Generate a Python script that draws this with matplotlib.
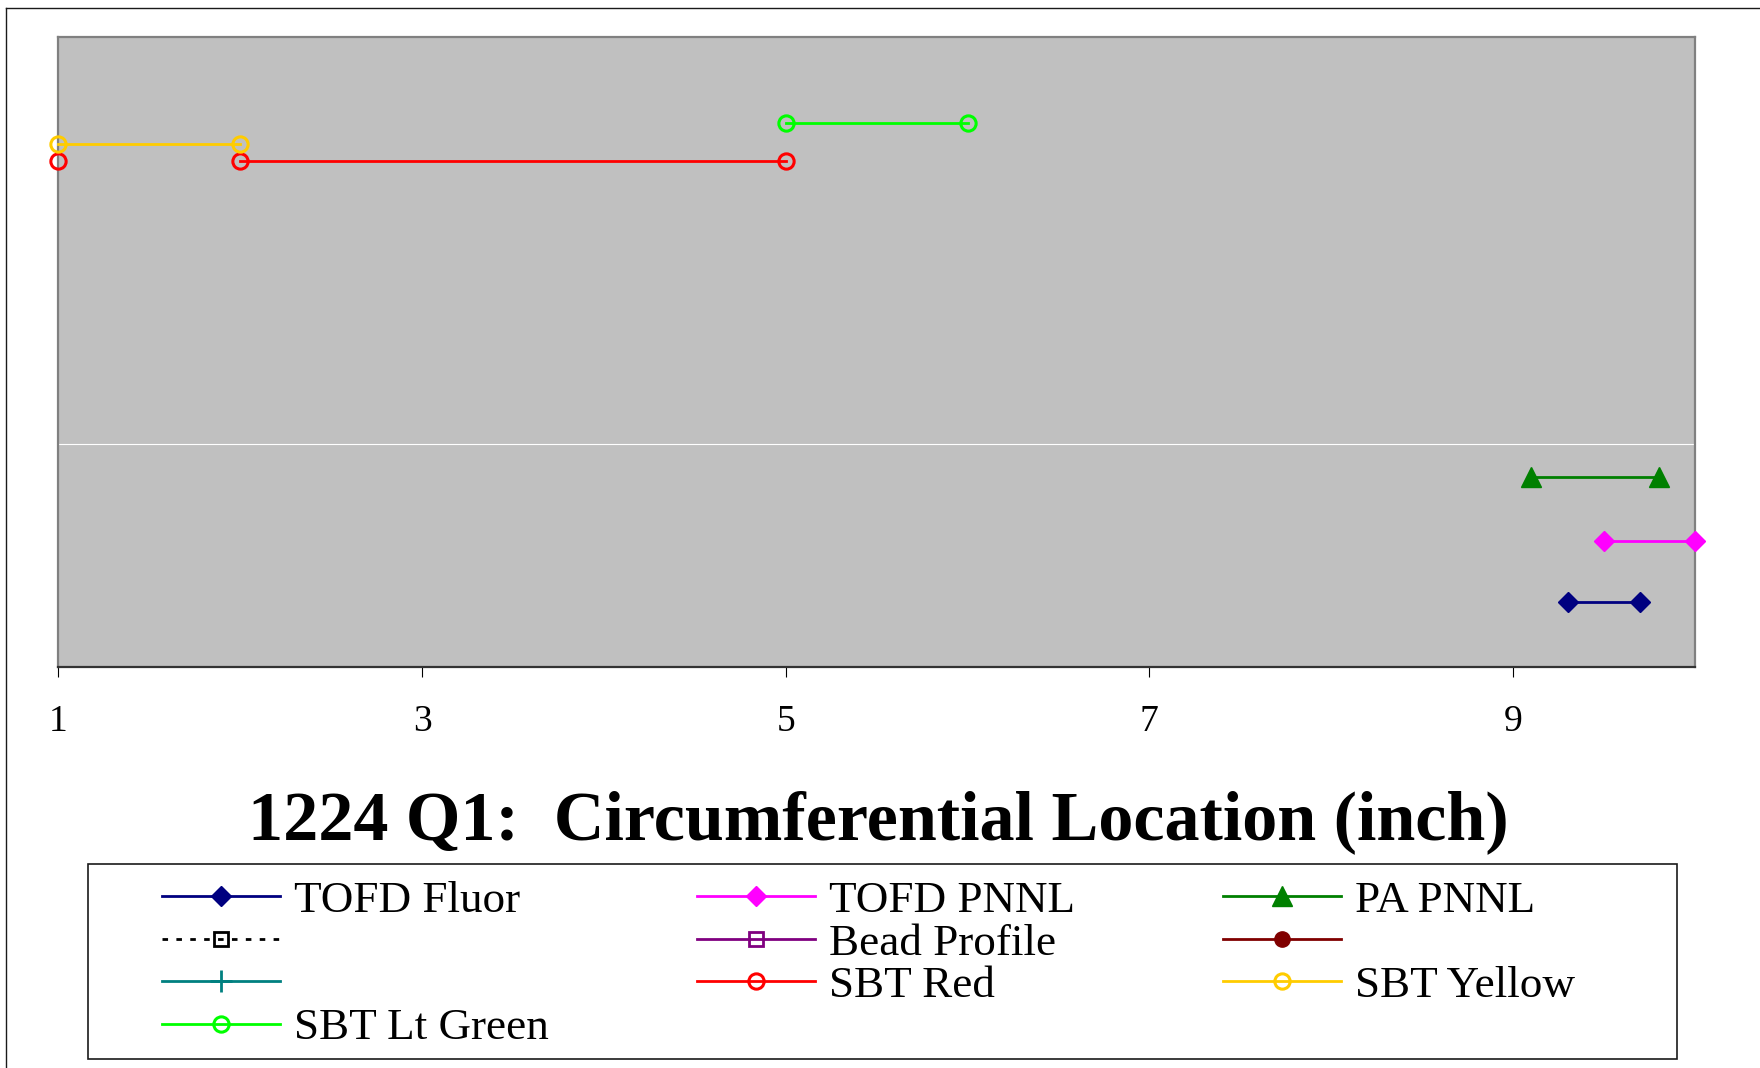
import numpy as np
import matplotlib
matplotlib.use('Agg')
from matplotlib import pyplot as plt
from matplotlib.patches import Rectangle
from matplotlib.lines import Line2D

plt.rcParams['font.family'] = ['Liberation Serif', 'DejaVu Serif']

# Данные (x - окружная координата, y - глубина)
tofd_fluor_x = [9.3, 9.7]
tofd_fluor_y = [-0.425, -0.425]
tofd_pnnl_x = [9.5, 10.0]
tofd_pnnl_y = [-0.26, -0.26]
pa_pnnl_x = [9.1, 9.8]
pa_pnnl_y = [-0.087, -0.087]
sbt_red_x = [1, np.nan, 2, 5]
sbt_red_y = [0.765, np.nan, 0.765, 0.765]
sbt_yellow_x = [1, 2]
sbt_yellow_y = [0.81, 0.81]
sbt_green_x = [5, 6]
sbt_green_y = [0.866, 0.866]
x_ticks = [1, 3, 5, 7, 9]

W, H = 1760, 1068
fig = plt.figure(figsize=(W / 100, H / 100), dpi=100)

ax = fig.add_axes([58.3 / W, (H - 666.7) / H, (1695 - 58.3) / W, (666.7 - 36.7) / H])
ax.set_facecolor('#c0c0c0')
ax.set_xlim(1, 10)
ax.set_ylim(-0.6, 1.1)
ax.axhline(0, color='white', lw=0.8, zorder=1)

common = dict(lw=2.0, clip_on=False, zorder=3)
l_fluor, = ax.plot(tofd_fluor_x, tofd_fluor_y, color='#000080', marker='D', ms=10, **common)
l_pnnl, = ax.plot(tofd_pnnl_x, tofd_pnnl_y, color='#ff00ff', marker='D', ms=10, **common)
l_pa, = ax.plot(pa_pnnl_x, pa_pnnl_y, color='#008000', marker='^', ms=14, **common)
l_red, = ax.plot(sbt_red_x, sbt_red_y, color='#ff0000', marker='o', ms=11, mfc='none', mew=2.2, **common)
l_yel, = ax.plot(sbt_yellow_x, sbt_yellow_y, color='#ffcc00', marker='o', ms=11, mfc='none', mew=2.2, **common)
l_grn, = ax.plot(sbt_green_x, sbt_green_y, color='#00ff00', marker='o', ms=11, mfc='none', mew=2.2, **common)

# пустые серии (только в легенде)
l_blank1, = ax.plot([], [], color='black', ls=(0, (2, 3)), lw=2, marker='s', ms=10, mfc='none', mec='black', mew=2)
l_bead, = ax.plot([], [], color='#800080', lw=2, marker='s', ms=10, mfc='none', mew=2)
l_blank2, = ax.plot([], [], color='#800000', lw=2, marker='o', ms=11)
l_blank3, = ax.plot([], [], color='#008080', lw=2, marker='+', ms=16, mew=2)

for side in ['left', 'top', 'right']:
	ax.spines[side].set_color('#808080')
	ax.spines[side].set_linewidth(1.6)
ax.spines['bottom'].set_color('#333333')
ax.spines['bottom'].set_linewidth(1.6)

ax.set_yticks([])
ax.set_xticks(x_ticks)
ax.tick_params(axis='x', direction='out', length=7.5, width=0.8, pad=20, labelsize=27)

fig.text(878 / W, 1 - 822.5 / H, '1224 Q1:  Circumferential Location (inch)',
		 ha='center', va='center', fontsize=50.5, fontweight='bold')

# легенда: порядок по столбцам
handles = [l_fluor, l_blank1, l_blank3, l_grn, l_pnnl, l_bead, l_red, l_pa, l_blank2, l_yel]
labels = ['TOFD Fluor', ' ', ' ', 'SBT Lt Green', 'TOFD PNNL', 'Bead Profile', 'SBT Red',
		  'PA PNNL', ' ', 'SBT Yellow']
fig.legend(handles, labels, ncol=3, mode='expand', loc='center', frameon=False,
		   bbox_to_anchor=(162 / W, (H - 1012.5) / H, (1575 - 162) / W, 96 / H),
		   bbox_transform=fig.transFigure, fontsize=32.5, borderpad=0, borderaxespad=0,
		   handlelength=2.62, handletextpad=0.3, labelspacing=0.04)
fig.patches.append(Rectangle((87.7 / W, (H - 1059.3) / H), (1676.7 - 87.7) / W, (1059.3 - 864.3) / H,
							 fill=False, edgecolor='#1a1a1a', lw=1.2, transform=fig.transFigure))

# рамка области диаграммы
fig.add_artist(Line2D([6.3 / W, 1.0], [1 - 8.3 / H, 1 - 8.3 / H], color='#1a1a1a', lw=1.0, transform=fig.transFigure))
fig.add_artist(Line2D([6.3 / W, 6.3 / W], [0.0, 1 - 8.3 / H], color='#1a1a1a', lw=1.0, transform=fig.transFigure))

plt.savefig('out.png', dpi=100)
